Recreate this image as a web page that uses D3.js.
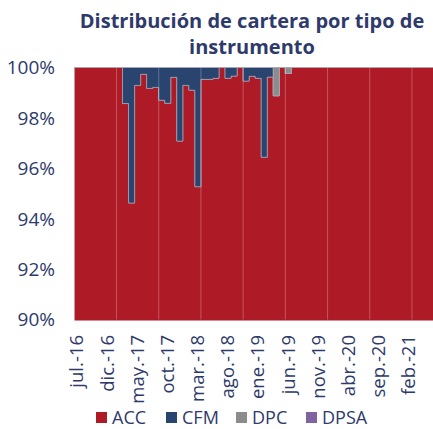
<!DOCTYPE html>
<html>
<head>
<meta charset="utf-8">
<script src="https://cdn.jsdelivr.net/npm/d3@7"></script>
<style>
  body { margin: 0; background: #fff; }
  svg { display: block; font-family: "Open Sans", sans-serif; }
</style>
</head>
<body>
<svg id="chart" width="433" height="429"></svg>
<script>
// monthly portfolio shares (%), jul-16 .. jun-21
let acc = [100, 100, 100, 100, 100, 100, 100, 100, 98.57, 94.62,
  99.29, 99.73, 99.17, 99.21, 98.70, 98.58, 99.61, 97.08, 99.29, 99.10,
  95.27, 99.53, 99.53, 99.57, 100, 99.57, 99.66, 100, 99.46, 99.65,
  99.57, 96.44, 99.62, 98.88, 100, 99.77, 100, 100, 100, 100,
  100, 100, 100, 100, 100, 100, 100, 100, 100, 100,
  100, 100, 100, 100, 100, 100, 100, 100, 100, 100];
let cfm = [0, 0, 0, 0, 0, 0, 0, 0, 1.43, 5.38,
  0.71, 0.27, 0.83, 0.79, 1.30, 1.42, 0.39, 2.92, 0.71, 0.90,
  4.73, 0.47, 0.47, 0.43, 0, 0.43, 0.34, 0, 0.54, 0.35,
  0.43, 3.56, 0.38, 0, 0, 0, 0, 0, 0, 0,
  0, 0, 0, 0, 0, 0, 0, 0, 0, 0,
  0, 0, 0, 0, 0, 0, 0, 0, 0, 0];
let dpc = [0, 0, 0, 0, 0, 0, 0, 0, 0, 0,
  0, 0, 0, 0, 0, 0, 0, 0, 0, 0,
  0, 0, 0, 0, 0, 0, 0, 0, 0, 0,
  0, 0, 0, 1.12, 0, 0.23, 0, 0, 0, 0,
  0, 0, 0, 0, 0, 0, 0, 0, 0, 0,
  0, 0, 0, 0, 0, 0, 0, 0, 0, 0];
let dpsa = [0, 0, 0, 0, 0, 0, 0, 0, 0, 0,
  0, 0, 0, 0, 0, 0, 0, 0, 0, 0,
  0, 0, 0, 0, 0, 0, 0, 0, 0, 0,
  0, 0, 0, 0, 0, 0, 0, 0, 0, 0,
  0, 0, 0, 0, 0, 0, 0, 0, 0, 0,
  0, 0, 0, 0, 0, 0, 0, 0, 0, 0];

let seriesNames = ["ACC", "CFM", "DPC", "DPSA"];
let colors = ["#ae1b27", "#29446f", "#8c8c8c", "#8064a2"];
let tickLabels = ["jul.-16", "dic.-16", "may.-17", "oct.-17", "mar.-18", "ago.-18",
  "ene.-19", "jun.-19", "nov.-19", "abr.-20", "sep.-20", "feb.-21"];
let yTicks = [0.90, 0.92, 0.94, 0.96, 0.98, 1.00];

let svg = d3.select("#chart");
let textColor = "#2e3a6b";

let plotLeft = 74.3, plotTop = 67.5, plotBottom = 319.5, monthW = 6.03;
let n = acc.length;

let x = d3.scaleLinear().domain([0, n]).range([plotLeft, plotLeft + n * monthW]);
let y = d3.scaleLinear().domain([0.9, 1]).range([plotBottom, plotTop]);

// rows incl. one closing row so the last step has a width
let rows = d3.range(n + 1).map(i => {
  let j = Math.min(i, n - 1);
  return { i: i, ACC: acc[j] / 100, CFM: cfm[j] / 100, DPC: dpc[j] / 100, DPSA: dpsa[j] / 100 };
});
let stacked = d3.stack().keys(seriesNames)(rows);

svg.append("clipPath").attr("id", "plot")
  .append("rect")
  .attr("x", plotLeft).attr("y", plotTop - 1)
  .attr("width", 433 - plotLeft).attr("height", plotBottom - plotTop + 2);

let area = d3.area()
  .curve(d3.curveStepAfter)
  .x(d => x(d.data.i))
  .y0(d => y(d[0]))
  .y1(d => y(d[1]));

let g = svg.append("g").attr("clip-path", "url(#plot)");

g.selectAll("path.series")
  .data(stacked)
  .enter()
  .append("path")
    .attr("class", "series")
    .attr("d", area)
    .attr("fill", (d, i) => colors[i])
    .attr("stroke", "#a7a7b8")
    .attr("stroke-width", 0.7);

// faint vertical gridlines
g.selectAll("line.grid")
  .data(d3.range(7, n, 7))
  .enter()
  .append("line")
    .attr("x1", d => x(d)).attr("x2", d => x(d))
    .attr("y1", plotTop).attr("y2", plotBottom)
    .attr("stroke", "#ffffff")
    .attr("stroke-opacity", 0.25)
    .attr("stroke-width", 1);

// y labels
svg.selectAll("text.ylab")
  .data(yTicks)
  .enter()
  .append("text")
    .attr("class", "ylab")
    .attr("x", 55)
    .attr("y", d => y(d))
    .attr("dy", "0.36em")
    .attr("text-anchor", "end")
    .attr("fill", textColor)
    .style("font-size", "19px")
    .text(d => d3.format(".0%")(d));

// x labels every 5 months
svg.selectAll("text.xlab")
  .data(tickLabels)
  .enter()
  .append("text")
    .attr("class", "xlab")
    .attr("transform", (d, i) => "translate(" + (x(i * 5) + monthW / 2 - 0.5) + ",335) rotate(-90)")
    .attr("dy", "0.36em")
    .attr("text-anchor", "end")
    .attr("fill", textColor)
    .style("font-size", "18.5px")
    .text(d => d);

// title
svg.append("text")
  .attr("x", 252).attr("y", 28)
  .attr("text-anchor", "middle")
  .attr("fill", textColor)
  .style("font-size", "20px")
  .style("font-weight", "bold")
  .selectAll("tspan")
  .data(["Distribución de cartera por tipo de", "instrumento"])
  .enter()
  .append("tspan")
    .attr("x", 252)
    .attr("dy", (d, i) => i == 0 ? 0 : 25.5)
    .text(d => d);

// legend
let legendX = [96, 166, 236, 306];
let legend = svg.selectAll("g.legend")
  .data(seriesNames)
  .enter()
  .append("g")
    .attr("class", "legend")
    .attr("transform", (d, i) => "translate(" + legendX[i] + ",412)");
legend.append("rect")
  .attr("width", 11).attr("height", 11)
  .attr("fill", (d, i) => colors[i]);
legend.append("text")
  .attr("x", 16).attr("y", 5.5)
  .attr("dy", "0.36em")
  .attr("fill", textColor)
  .style("font-size", "18px")
  .text(d => d);
</script>
</body>
</html>
